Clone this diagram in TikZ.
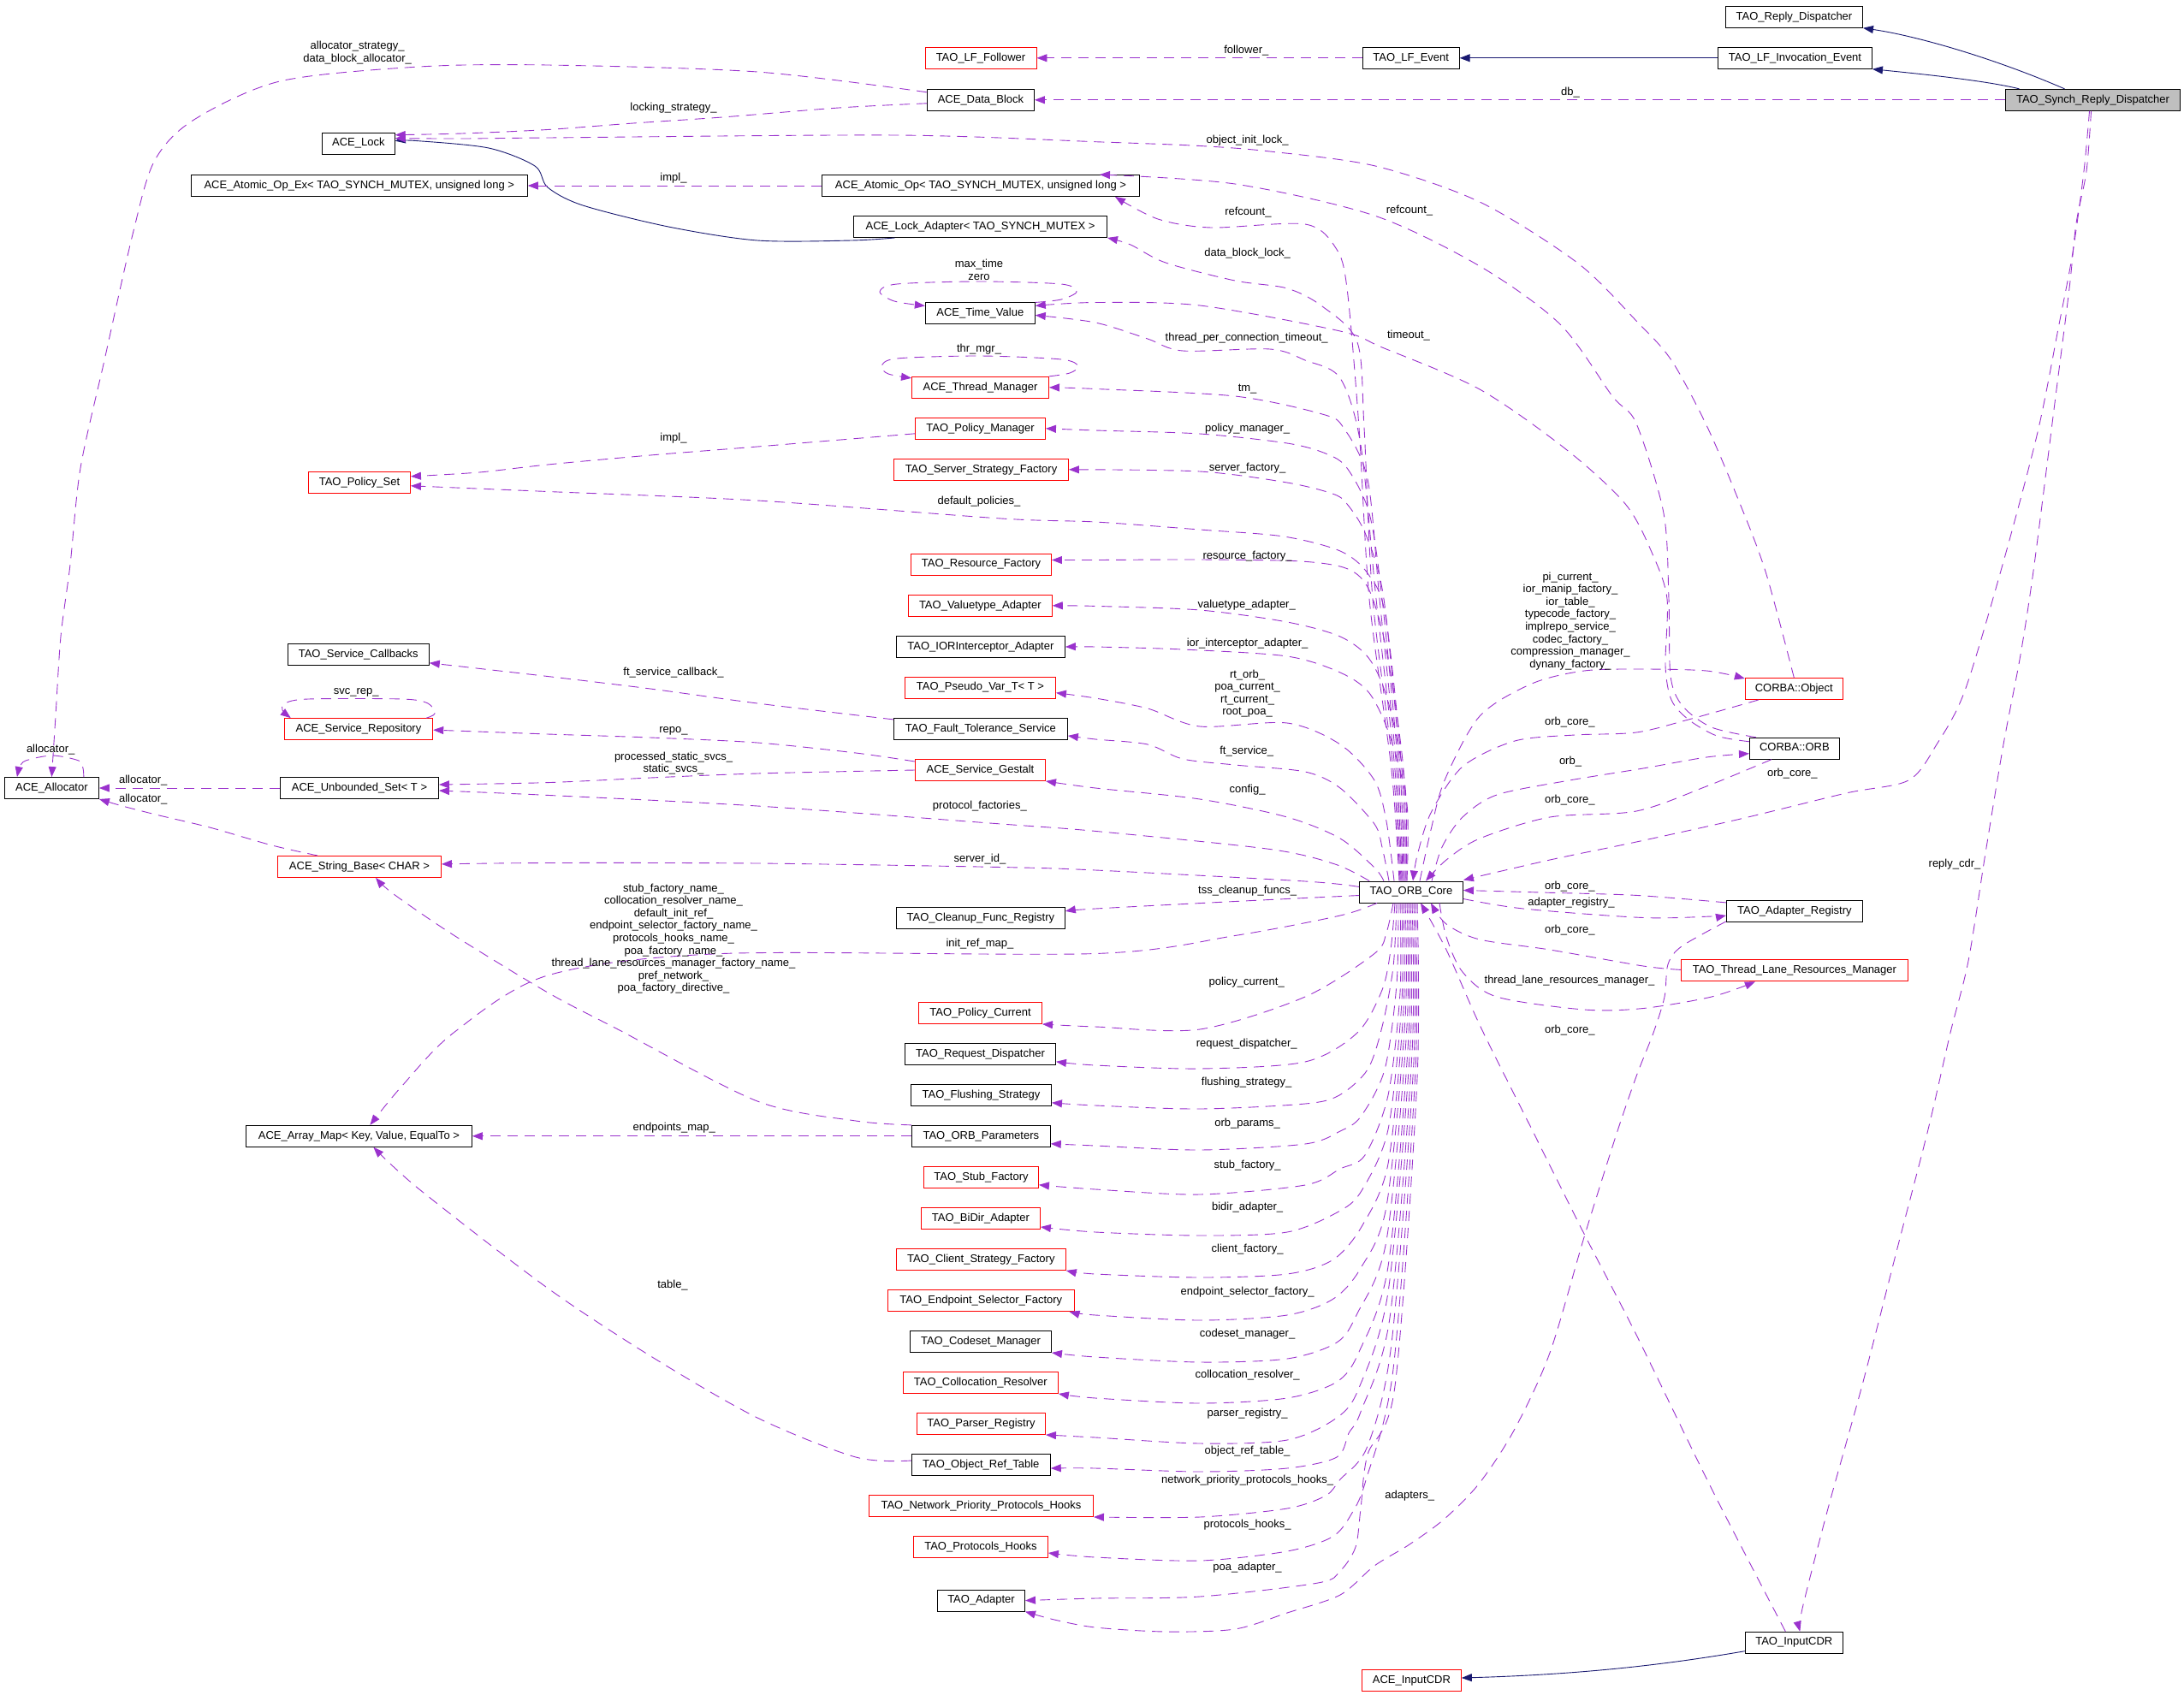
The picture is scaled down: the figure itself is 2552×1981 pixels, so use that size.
\documentclass[tikz,border=0pt]{standalone}
\usepackage{fontspec}
\setmainfont{Liberation Sans}
\usetikzlibrary{arrows.meta}
\definecolor{depcol}{HTML}{9A32CD}
\definecolor{inhcol}{HTML}{191970}
\definecolor{focal}{HTML}{BFBFBF}
\tikzset{
  box/.style={draw=black, line width=0.9pt, minimum height=25pt, inner sep=0pt,
    font=\fontsize{13}{15}\selectfont, text height=9.5pt, text depth=3pt},
  rbox/.style={box, draw=red},
  dep/.style={draw=depcol, line width=0.9pt, dash pattern=on 12pt off 8pt,
    -{Triangle[length=12pt,width=9pt]}},
  inh/.style={draw=inhcol, line width=0.9pt, -{Triangle[length=12pt,width=9pt]}},
  lbl/.style={font=\fontsize{13}{14.6}\selectfont, inner sep=0pt, text height=9.5pt, text depth=3pt},
  mlbl/.style={font=\fontsize{13}{14.6}\selectfont, inner sep=0pt, align=center},
}
\begin{document}
\begin{tikzpicture}[x=1pt,y=-1pt]
\useasboundingbox (0,0) rectangle (2552,1981);
% ---------------- nodes ----------------
\node[box,minimum width=160pt] (rd) at (2096.5,19.8) {TAO\_Reply\_Dispatcher};
\node[box,minimum width=180pt] (lie) at (2097.5,67.8) {TAO\_LF\_Invocation\_Event};
\node[box,minimum width=204pt,fill=focal] (srd) at (2445.5,116.8) {TAO\_Synch\_Reply\_Dispatcher};
\node[box,minimum width=113pt] (lfe) at (1648.7,67.8) {TAO\_LF\_Event};
\node[rbox,minimum width=130pt] (lff) at (1146,67.8) {TAO\_LF\_Follower};
\node[box,minimum width=125pt] (adb) at (1146,116.8) {ACE\_Data\_Block};
\node[box,minimum width=85pt] (lock) at (418.8,167.7) {ACE\_Lock};
\node[box,minimum width=393pt] (aopx) at (419.8,217) {ACE\_Atomic\_Op\_Ex< TAO\_SYNCH\_MUTEX, unsigned long >};
\node[box,minimum width=371pt] (aop) at (1146,217) {ACE\_Atomic\_Op< TAO\_SYNCH\_MUTEX, unsigned long >};
\node[box,minimum width=296pt] (lad) at (1145.5,265) {ACE\_Lock\_Adapter< TAO\_SYNCH\_MUTEX >};
\node[box,minimum width=128pt] (tv) at (1145.3,366.4) {ACE\_Time\_Value};
\node[rbox,minimum width=160pt] (thm) at (1145.5,452.8) {ACE\_Thread\_Manager};
\node[rbox,minimum width=152pt] (pm) at (1145.5,500.8) {TAO\_Policy\_Manager};
\node[rbox,minimum width=204pt] (ssf) at (1146.5,548.8) {TAO\_Server\_Strategy\_Factory};
\node[rbox,minimum width=119pt] (ps) at (420,563.8) {TAO\_Policy\_Set};
\node[rbox,minimum width=164pt] (rf) at (1146.5,659.5) {TAO\_Resource\_Factory};
\node[rbox,minimum width=168pt] (va) at (1145.3,707.8) {TAO\_Valuetype\_Adapter};
\node[box,minimum width=197pt] (iia) at (1145.9,756) {TAO\_IORInterceptor\_Adapter};
\node[rbox,minimum width=176pt] (pv) at (1145.5,803.7) {TAO\_Pseudo\_Var\_T< T >};
\node[box,minimum width=203pt] (fts) at (1145.9,851.9) {TAO\_Fault\_Tolerance\_Service};
\node[rbox,minimum width=152pt] (sg) at (1145.5,900) {ACE\_Service\_Gestalt};
\node[box,minimum width=197pt] (cfr) at (1145.9,1072.9) {TAO\_Cleanup\_Func\_Registry};
\node[rbox,minimum width=144pt] (pc) at (1145.5,1184) {TAO\_Policy\_Current};
\node[box,minimum width=176pt] (rqd) at (1145.5,1231.8) {TAO\_Request\_Dispatcher};
\node[box,minimum width=164pt] (fs) at (1146.5,1279.8) {TAO\_Flushing\_Strategy};
\node[box,minimum width=162pt] (op) at (1146.3,1327.8) {TAO\_ORB\_Parameters};
\node[rbox,minimum width=134pt] (sf) at (1146.5,1375.8) {TAO\_Stub\_Factory};
\node[rbox,minimum width=139pt] (bda) at (1145.9,1424) {TAO\_BiDir\_Adapter};
\node[rbox,minimum width=198pt] (csf) at (1146.3,1472) {TAO\_Client\_Strategy\_Factory};
\node[rbox,minimum width=217.5pt] (esf) at (1146.3,1520) {TAO\_Endpoint\_Selector\_Factory};
\node[box,minimum width=165pt] (cm) at (1146,1568) {TAO\_Codeset\_Manager};
\node[rbox,minimum width=181pt] (cr) at (1145.9,1616) {TAO\_Collocation\_Resolver};
\node[rbox,minimum width=150pt] (pr) at (1146.5,1664) {TAO\_Parser\_Registry};
\node[box,minimum width=162pt] (ort) at (1146.3,1712) {TAO\_Object\_Ref\_Table};
\node[rbox,minimum width=262pt] (npph) at (1146.5,1760) {TAO\_Network\_Priority\_Protocols\_Hooks};
\node[rbox,minimum width=157pt] (ph) at (1145.9,1808) {TAO\_Protocols\_Hooks};
\node[box,minimum width=102pt] (ad) at (1146.5,1870.6) {TAO\_Adapter};
\node[box,minimum width=165pt] (tsc) at (418.8,764.8) {TAO\_Service\_Callbacks};
\node[rbox,minimum width=173.5pt] (sr) at (419,852.1) {ACE\_Service\_Repository};
\node[box,minimum width=110pt] (alloc) at (60.4,921) {ACE\_Allocator};
\node[box,minimum width=185pt] (us) at (420,921) {ACE\_Unbounded\_Set< T >};
\node[rbox,minimum width=191pt] (sb) at (420,1012.9) {ACE\_String\_Base< CHAR >};
\node[box,minimum width=264pt] (am) at (419.4,1327.8) {ACE\_Array\_Map< Key, Value, EqualTo >};
\node[box,minimum width=121pt] (core) at (1649,1042.5) {TAO\_ORB\_Core};
\node[rbox,minimum width=114pt] (cobj) at (2096.3,805) {CORBA::Object};
\node[box,minimum width=105pt] (corb) at (2096.9,874.7) {CORBA::ORB};
\node[box,minimum width=159pt] (areg) at (2096.9,1064.9) {TAO\_Adapter\_Registry};
\node[rbox,minimum width=265pt] (tlrm) at (2096.9,1134.4) {TAO\_Thread\_Lane\_Resources\_Manager};
\node[rbox,minimum width=116pt] (icdr) at (1649.4,1964) {ACE\_InputCDR};
\node[box,minimum width=114pt] (tcdr) at (2096.3,1919.7) {TAO\_InputCDR};

% ---------------- inheritance ----------------
\draw[inh] ([xshift=-33pt]srd.north) .. controls (2330,68) and (2240,42) .. (rd.south east);
\draw[inh] ([xshift=-86pt]srd.north) .. controls (2320,94) and (2240,86) .. (lie.south east);
\draw[inh] (lie.west) -- (lfe.east);
\draw[inh] plot[smooth,tension=0.5] coordinates {([xshift=-100pt]lad.south) (995,281) (885,281) (781,265) (681,240) (640,219) (625,194) (571,173) (486,164.5) ([yshift=3pt]lock.east)};
\draw[inh] ([yshift=-10pt]tcdr.west) .. controls (1950,1945) and (1850,1957) .. ([yshift=3pt]icdr.east);

% ---------------- usage (top area) ----------------
\draw[dep] (lfe.west) -- (lff.east);
\draw[dep] (srd.west) -- (adb.east);
\draw[dep] plot[smooth,tension=0.5] coordinates {([yshift=-4pt]adb.west) (980,126) (844,137) (740,144) (640,151.5) (540,156) ([yshift=10pt]lock.east)};
\draw[dep] plot[smooth,tension=0.5] coordinates {([yshift=9pt]adb.west) (885,84) (640,76) (490,78) (327,95) (225,141) (180,189) (155,274) (122,421) (94,547) (82,660) (71,744) (65,837) (alloc.north)};
\draw[dep] plot[smooth,tension=0.5] coordinates {(cobj.north) (2063,668) (2030,581) (1994,497) (1953,421) (1912,375) (1843,307) (1729,236) (1607,194) (1484,177) (1402,170.5) (1288,166) (1048,158) (640,161) (540,162) ([yshift=6pt]lock.east)};
\draw[dep] (aop.west) -- (aopx.east);
\draw[dep] plot[smooth,tension=0.5] coordinates {([xshift=-14pt]core.north) (1626,900) (1600,700) (1588,500) (1574,337) (1561,290) (1525,262) (1415,266) (1353,256) ([xshift=-29pt]aop.south east)};
\draw[dep] plot[smooth,tension=0.5] coordinates {([xshift=-13pt]core.north) (1628,900) (1604,700) (1594,500) (1586,400) (1545,358) (1504,337) (1443,328) (1362,307) (1321,286) (lad.south east)};
\draw[dep] plot[smooth,tension=0.5] coordinates {([xshift=-12pt]core.north) (1630,900) (1608,700) (1590,520) (1566,442) (1525,421) (1484,408) (1382,410) (1341,396) (1280,377) ([yshift=-2pt]tv.east)};
\draw[dep] plot[smooth,tension=0.5] coordinates {([yshift=-5pt]corb.north west) (2006,860) (1973,841) (1953,818) (1946,778) (1948,700) (1932,650) (1900,590) (1831,526) (1729,455) (1615,406) (1566,387) (1402,357) (1280,353.5) ([yshift=9pt]tv.east)};
\draw[dep] plot[smooth,tension=0.5] coordinates {([xshift=8pt]corb.north west) (2000,850) (1966,825) (1952,790) (1950,700) (1944,600) (1912,495) (1884,463) (1823,379) (1729,311) (1606,252) (1443,215) ([xshift=-47pt]aop.north east)};
\draw[dep] plot[smooth,tension=0.5] coordinates {([xshift=-11pt]core.north) (1632,900) (1612,700) (1598,560) (1570,500) (1545,484) (1443,463) (1280,454.5) (thm.east)};
\draw[dep] plot[smooth,tension=0.5] coordinates {([xshift=-10pt]core.north) (1634,900) (1615,700) (1600,600) (1574,547) (1549,530) (1504,518) (1402,507) (1280,503) (pm.east)};
\draw[dep] plot[smooth,tension=0.5] coordinates {([xshift=-9pt]core.north) (1636,900) (1617,700) (1596,625) (1574,589) (1557,577) (1504,564) (1402,551) (ssf.east)};
\draw[dep] plot[smooth,tension=0.5] coordinates {([xshift=-8pt]core.north) (1638,900) (1619,720) (1598,670) (1566,644) (1500,627) (1402,619) (1280,610) (1170,606) (885,585) (640,574.5) ([yshift=-4pt]ps.east)};
\draw[dep] plot[smooth,tension=0.5] coordinates {([yshift=-6pt]pm.west) (885,522) (760,532) (640,543) (560,552) ([yshift=7pt]ps.east)};
\draw[dep] plot[smooth,tension=0.5] coordinates {([xshift=-7pt]core.north) (1640,900) (1620,760) (1600,690) (1575,665) (1520,656) (1402,654) (1280,654.5) ([yshift=5pt]rf.east)};
\draw[dep] plot[smooth,tension=0.5] coordinates {([xshift=-6pt]core.north) (1642,920) (1622,820) (1600,770) (1566,744) (1504,727) (1402,713) (1280,708.4) (va.east)};
\draw[dep] plot[smooth,tension=0.5] coordinates {([xshift=-5pt]core.north) (1644,940) (1624,860) (1600,810) (1566,786) (1504,767) (1382,759) (1280,756) (iia.east)};
\draw[dep] plot[smooth,tension=0.5] coordinates {([xshift=-20pt]core.north) (1620,960) (1606,912) (1566,870) (1504,845) (1402,849) (1341,828) (1280,816) ([yshift=-6pt]pv.east)};
\draw[dep] plot[smooth,tension=0.5] coordinates {([xshift=-26pt]core.north) (1615,990) (1606,963) (1566,921) (1525,902) (1443,894) (1382,887) (1341,870) (1280,864) ([yshift=-8pt]fts.east)};
\draw[dep] plot[smooth,tension=0.5] coordinates {([xshift=-32pt]core.north) (1606,1014) (1566,980) (1504,955) (1402,934) (1280,921) (sg.south east)};
\draw[dep] plot[smooth,tension=0.5] coordinates {([xshift=12pt]core.north west) (1560,1010) (1484,992.5) (1280,971.4) (1170,963) (885,942) (640,929.4) ([yshift=-3pt]us.east)};
\draw[dep] plot[smooth,tension=0.5] coordinates {([yshift=6pt]core.west) (1525,1030) (1280,1017) (1170,1013.5) (885,1009) (640,1008.5) ([yshift=3pt]sb.east)};
\draw[dep] plot[smooth,tension=0.5] coordinates {([yshift=-4pt]core.west) (1443,1053.5) (1280,1062) ([yshift=8pt]cfr.east)};
\draw[dep] plot[smooth,tension=0.5] coordinates {([xshift=-40pt]core.south) (1566,1070) (1443,1093.5) (1280,1114.5) (844,1114.5) (640,1140) (530,1207) (469,1270) ([xshift=13pt]am.north)};

% ---------------- left side ----------------
\draw[dep] (op.west) -- (am.east);
\draw[dep] plot[smooth,tension=0.5] coordinates {(op.north west) (1000,1310) (885,1287) (722,1203) (640,1160) (531,1093.5) (460,1045) ([xshift=19pt]sb.south)};
\draw[dep] plot[smooth,tension=0.5] coordinates {([yshift=5pt]ort.west) (1000,1703) (885,1657) (762,1586) (640,1505.5) (490,1390) ([xshift=17pt]am.south)};
\draw[dep] plot[smooth,tension=0.5] coordinates {([yshift=10pt]sg.west) (1000,880) (885,868) (760,862) (640,858) ([yshift=-1pt]sr.east)};
\draw[dep] plot[smooth,tension=0.5] coordinates {(sg.west) (885,904) (760,909) (640,914.6) ([yshift=4pt]us.east)};
\draw[dep] plot[smooth,tension=0.5] coordinates {([yshift=11pt]fts.west) (885,822) (760,805) (640,790.5) ([yshift=-10pt]tsc.east)};
\draw[dep] plot[smooth,tension=0.5] coordinates {([xshift=-49pt]sb.north) (318,988) (245,967) (184,952.5) (143,942) (alloc.south east)};
\draw[dep] (us.west) -- (alloc.east);
\draw[dep] plot[smooth,tension=0.5] coordinates {([xshift=-18pt]alloc.north east) (97,898) (92,889) (61,883) (30,889) (23,897) ([xshift=15pt]alloc.north west)};
\draw[dep] plot[smooth,tension=0.5] coordinates {([xshift=-8pt]sr.north east) (508,834) (500,822) (470,817) (360,817) (333,822) (330,830) ([xshift=8pt]sr.north west)};
\draw[dep] plot[smooth,tension=0.5] coordinates {(tv.north east) (1240,350) (1258,341) (1240,332) (1144,329) (1048,332) (1028,341) (1045,352) ([yshift=-4pt]tv.north west)};
\draw[dep] plot[smooth,tension=0.5] coordinates {(thm.north east) (1250,436) (1260,428) (1240,420) (1145,416) (1048,419) (1030,428) (1038,437) ([yshift=-2pt]thm.north west)};

% ---------------- lower fan ----------------
\draw[dep] plot[smooth,tension=0.5] coordinates {([xshift=-21pt]core.south) (1620,1090) (1606,1114.5) (1525,1165) (1402,1203) (1280,1200) (pc.south east)};
\draw[dep] plot[smooth,tension=0.5] coordinates {([xshift=-19pt]core.south) (1625,1110) (1615,1157) (1586,1207) (1525,1241) (1402,1249) (1280,1245) ([yshift=-9pt]rqd.east)};
\draw[dep] plot[smooth,tension=0.5] coordinates {([xshift=-17pt]core.south) (1628,1130) (1615,1200) (1598,1250) (1565,1280) (1525,1290) (1402,1296) (1280,1292) ([yshift=-9pt]fs.east)};
\draw[dep] plot[smooth,tension=0.5] coordinates {([xshift=-15pt]core.south) (1632,1150) (1618,1250) (1590,1305) (1566,1322) (1525,1337) (1402,1344) (1280,1339) ([yshift=-9pt]op.east)};
\draw[dep] plot[smooth,tension=0.5] coordinates {([xshift=-13pt]core.south) (1636,1160) (1622,1280) (1595,1350) (1566,1366) (1525,1385) (1402,1396) (1280,1390) ([yshift=-9pt]sf.east)};
\draw[dep] plot[smooth,tension=0.5] coordinates {([xshift=-11pt]core.south) (1638,1170) (1622,1320) (1592,1390) (1566,1415) (1504,1440) (1402,1444) (1280,1440) ([yshift=-10pt]bda.east)};
\draw[dep] plot[smooth,tension=0.5] coordinates {([xshift=-9pt]core.south) (1640,1180) (1622,1360) (1592,1432) (1558,1472) (1504,1489) (1402,1493) (1280,1489) (csf.south east)};
\draw[dep] plot[smooth,tension=0.5] coordinates {([xshift=-7pt]core.south) (1642,1190) (1620,1410) (1590,1482) (1558,1518) (1504,1537) (1402,1543) (1280,1537) ([xshift=-6pt]esf.south east)};
\draw[dep] plot[smooth,tension=0.5] coordinates {([xshift=-5pt]core.south) (1644,1200) (1620,1450) (1586,1535) (1562,1569) (1504,1588) (1402,1592) (1280,1586) (cm.south east)};
\draw[dep] plot[smooth,tension=0.5] coordinates {([xshift=-3pt]core.south) (1646,1210) (1622,1480) (1588,1580) (1562,1615) (1504,1634) (1402,1640) (1280,1634) (cr.south east)};
\draw[dep] plot[smooth,tension=0.5] coordinates {([xshift=-1pt]core.south) (1648,1220) (1622,1510) (1588,1622) (1562,1657) (1504,1683) (1402,1687) (1280,1680) (pr.south east)};
\draw[dep] plot[smooth,tension=0.5] coordinates {([xshift=1pt]core.south) (1650,1230) (1624,1540) (1590,1650) (1576,1675) (1562,1703) (1504,1716) (1402,1720) (1280,1716) ([yshift=-4pt]ort.east)};
\draw[dep] plot[smooth,tension=0.5] coordinates {([xshift=3pt]core.south) (1652,1240) (1626,1570) (1598,1690) (1566,1729) (1549,1748) (1504,1763) (1402,1773) (npph.south east)};
\draw[dep] plot[smooth,tension=0.5] coordinates {([xshift=5pt]core.south) (1654,1250) (1628,1600) (1596,1730) (1580,1768) (1557,1796) (1504,1813) (1402,1824) (1280,1820) ([yshift=-7pt]ph.east)};
\draw[dep] plot[smooth,tension=0.5] coordinates {([xshift=7pt]core.south) (1656,1260) (1630,1620) (1598,1700) (1590,1763) (1584,1808) (1566,1836) (1540,1850) (1402,1866) (1280,1868) (ad.east)};

% ---------------- right side ----------------
\draw[dep] plot[smooth,tension=0.5] coordinates {([xshift=10pt]core.north) (1672,970) (1688,912) (1729,837) (1790,799) (1851,784) (1920,782) (1994,784) ([yshift=12pt]cobj.west)};
\draw[dep] plot[smooth,tension=0.5] coordinates {([xshift=16pt]cobj.south west) (1973,841) (1912,856) (1840,859) (1770,866) (1709,896) (1672,950) (1656,1000) ([xshift=2pt]core.north)};
\draw[dep] plot[smooth,tension=0.5] coordinates {([xshift=24pt]core.north) (1685,990) (1709,955) (1749,929) (1831,912.5) (1920,898) (1994,885) ([yshift=-6pt]corb.west)};
\draw[dep] plot[smooth,tension=0.5] coordinates {([xshift=26pt]corb.south west) (1994,919) (1912,948) (1811,955) (1729,980) (1690,1005) ([xshift=17pt]core.north)};
\draw[dep] plot[smooth,tension=0.5] coordinates {([xshift=-4pt]srd.south) (2435,200) (2422,295) (2406,379) (2381,505) (2340,660) (2296,807) (2263,870) (2230,912) (2157,927) (2034,957) (1912,984) (1811,1005) ([yshift=14pt]core.east)};
\draw[dep] plot[smooth,tension=0.5] coordinates {([xshift=-2pt]srd.south) (2438,200) (2426,261) (2418,337) (2402,463) (2377,660) (2361,765) (2341,870) (2320,997) (2300,1123) (2279,1207) (2253,1320) (2218,1455) (2177,1615) (2136,1763) (2106,1880) ([xshift=7pt]tcdr.north)};
\draw[dep] plot[smooth,tension=0.5] coordinates {([xshift=-10pt]tcdr.north) (2000,1740) (1912,1560) (1850,1440) (1790,1320) (1730,1200) (1690,1110) ([xshift=11pt]core.south)};
\draw[dep] plot[smooth,tension=0.5] coordinates {([xshift=33pt]core.south) (1690,1095) (1709,1136) (1749,1165) (1851,1180) (1920,1178.5) (2000,1165) ([xshift=-46pt]tlrm.south)};
\draw[dep] plot[smooth,tension=0.5] coordinates {([yshift=1pt]tlrm.west) (1920,1129) (1811,1110) (1729,1098) (1690,1080) ([xshift=23pt]core.south)};
\draw[dep] plot[smooth,tension=0.5] coordinates {([yshift=-8pt]core.east) (1780,1062) (1920,1072.5) (2000,1071) ([yshift=-5pt]areg.west)};
\draw[dep] plot[smooth,tension=0.5] coordinates {([yshift=10pt]areg.west) (1912,1046.4) (1800,1043) ([yshift=2pt]core.east)};
\draw[dep] plot[smooth,tension=0.5] coordinates {([yshift=-12pt]areg.west) (1965,1106) (1949,1127) (1945,1165) (1932,1207) (1912,1258) (1888,1328) (1851,1446) (1811,1581) (1770,1670) (1729,1733) (1688,1775) (1647,1805) (1606,1830) (1566,1864) (1504,1885) (1443,1904) (1362,1907) (1280,1902) (1232,1893) (ad.south east)};

% ---------------- labels ----------------
\node[lbl] (l1) at (1456.3,59.3) {follower\_};
\node[lbl] (l2) at (1835,108.6) {db\_};
\node[mlbl] (l3) at (417.6,61.5) {allocator\_strategy\_\\data\_block\_allocator\_};
\node[lbl] (l4) at (787,126.3) {locking\_strategy\_};
\node[lbl] (l5) at (1457.6,164.1) {object\_init\_lock\_};
\node[lbl] (l6) at (787,208.3) {impl\_};
\node[lbl] (l7) at (1458.4,248.3) {refcount\_};
\node[lbl] (l8) at (1647,246.2) {refcount\_};
\node[lbl] (l9) at (1457.6,296.7) {data\_block\_lock\_};
\node[mlbl] (l10) at (1144,315.2) {max\_time\\zero};
\node[lbl] (l11) at (1646,392.3) {timeout\_};
\node[lbl] (l12) at (1456.7,395.6) {thread\_per\_connection\_timeout\_};
\node[lbl] (l13) at (1144,408.7) {thr\_mgr\_};
\node[lbl] (l14) at (1457.6,454.5) {tm\_};
\node[lbl] (l15) at (1457.6,500.8) {policy\_manager\_};
\node[lbl] (l16) at (787,512.6) {impl\_};
\node[lbl] (l17) at (1457.6,547.1) {server\_factory\_};
\node[lbl] (l18) at (1144,586.3) {default\_policies\_};
\node[lbl] (l19) at (1457.6,650.3) {resource\_factory\_};
\node[mlbl] (l20) at (1835,725.9) {pi\_current\_\\ior\_manip\_factory\_\\ior\_table\_\\typecode\_factory\_\\implrepo\_service\_\\codec\_factory\_\\compression\_manager\_\\dynany\_factory\_};
\node[lbl] (l21) at (1456.7,707.6) {valuetype\_adapter\_};
\node[lbl] (l22) at (1457.6,752.6) {ior\_interceptor\_adapter\_};
\node[lbl] (l23) at (787,786.3) {ft\_service\_callback\_};
\node[mlbl] (l24) at (1457.6,810.7) {rt\_orb\_\\poa\_current\_\\rt\_current\_\\root\_poa\_};
\node[lbl] (l25) at (416.3,808.1) {svc\_rep\_};
\node[lbl] (l26) at (1834.3,844) {orb\_core\_};
\node[lbl] (l27) at (787,852.8) {repo\_};
\node[lbl] (l28) at (59.2,876.7) {allocator\_};
\node[lbl] (l29) at (1456.7,878.4) {ft\_service\_};
\node[mlbl] (l30) at (787,891.9) {processed\_static\_svcs\_\\static\_svcs\_};
\node[lbl] (l31) at (1835,890.6) {orb\_};
\node[lbl] (l32) at (2094.4,904.5) {orb\_core\_};
\node[lbl] (l33) at (167.3,912.5) {allocator\_};
\node[lbl] (l34) at (1457.6,923.5) {config\_};
\node[lbl] (l35) at (167.3,934.4) {allocator\_};
\node[lbl] (l36) at (1834.3,934.8) {orb\_core\_};
\node[lbl] (l37) at (1144.9,942.4) {protocol\_factories\_};
\node[lbl] (l38) at (1144.9,1003.9) {server\_id\_};
\node[lbl] (l39) at (2284,1010.6) {reply\_cdr\_};
\node[lbl] (l40) at (1834.3,1035.8) {orb\_core\_};
\node[lbl] (l41) at (1457.6,1040.9) {tss\_cleanup\_funcs\_};
\node[lbl] (l42) at (1836,1055.6) {adapter\_registry\_};
\node[lbl] (l43) at (1834.3,1086.8) {orb\_core\_};
\node[mlbl] (l44) at (787,1097.1) {stub\_factory\_name\_\\collocation\_resolver\_name\_\\default\_init\_ref\_\\endpoint\_selector\_factory\_name\_\\protocols\_hooks\_name\_\\poa\_factory\_name\_\\thread\_lane\_resources\_manager\_factory\_name\_\\pref\_network\_\\poa\_factory\_directive\_};
\node[lbl] (l45) at (1144.9,1103.6) {init\_ref\_map\_};
\node[lbl] (l46) at (1834,1146) {thread\_lane\_resources\_manager\_};
\node[lbl] (l47) at (1456.7,1148.6) {policy\_current\_};
\node[lbl] (l48) at (1834.3,1203.8) {orb\_core\_};
\node[lbl] (l49) at (1456.7,1219.8) {request\_dispatcher\_};
\node[lbl] (l50) at (1456.7,1264.8) {flushing\_strategy\_};
\node[lbl] (l51) at (1457.6,1313.2) {orb\_params\_};
\node[lbl] (l52) at (787.8,1318.4) {endpoints\_map\_};
\node[lbl] (l53) at (1457.6,1362.2) {stub\_factory\_};
\node[lbl] (l54) at (1457.6,1411.5) {bidir\_adapter\_};
\node[lbl] (l55) at (1457.6,1460.4) {client\_factory\_};
\node[lbl] (l56) at (786,1502.5) {table\_};
\node[lbl] (l57) at (1457.6,1510.6) {endpoint\_selector\_factory\_};
\node[lbl] (l58) at (1457.6,1559.5) {codeset\_manager\_};
\node[lbl] (l59) at (1457.6,1607.5) {collocation\_resolver\_};
\node[lbl] (l60) at (1457.6,1651.8) {parser\_registry\_};
\node[lbl] (l61) at (1457.6,1696.5) {object\_ref\_table\_};
\node[lbl] (l62) at (1457.6,1730.2) {network\_priority\_protocols\_hooks\_};
\node[lbl] (l63) at (1647.3,1747.9) {adapters\_};
\node[lbl] (l64) at (1457.6,1782.5) {protocols\_hooks\_};
\node[lbl] (l65) at (1457.6,1832.6) {poa\_adapter\_};
\end{tikzpicture}
\end{document}
